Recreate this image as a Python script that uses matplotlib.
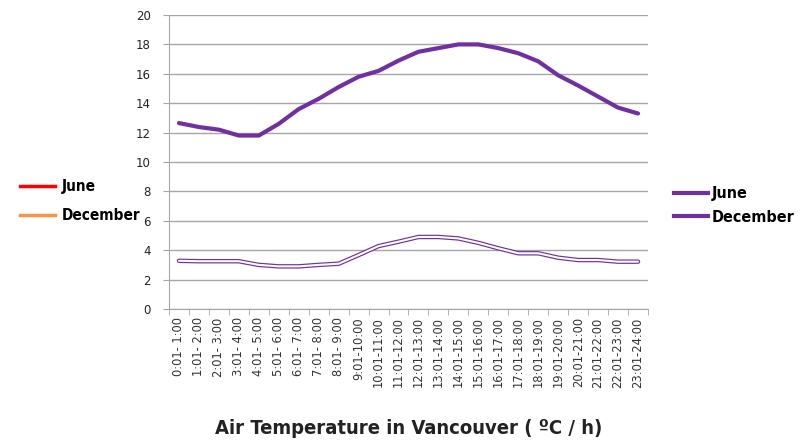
import matplotlib
matplotlib.use("Agg")
import matplotlib.pyplot as plt
from matplotlib.lines import Line2D
import numpy as np

hours = ["0:01- 1:00", "1:01- 2:00", "2:01- 3:00", "3:01- 4:00", "4:01- 5:00",
         "5:01- 6:00", "6:01- 7:00", "7:01- 8:00", "8:01- 9:00", "9:01-10:00",
         "10:01-11:00", "11:01-12:00", "12:01-13:00", "13:01-14:00", "14:01-15:00",
         "15:01-16:00", "16:01-17:00", "17:01-18:00", "18:01-19:00", "19:01-20:00",
         "20:01-21:00", "21:01-22:00", "22:01-23:00", "23:01-24:00"]

june = [12.65, 12.38, 12.2, 11.8, 11.8, 12.6, 13.6, 14.3, 15.1, 15.8, 16.2, 16.9,
        17.5, 17.75, 18.0, 18.0, 17.75, 17.4, 16.85, 15.9, 15.2, 14.45, 13.7, 13.3]
december = [3.28, 3.25, 3.25, 3.25, 3.0, 2.9, 2.9, 3.0, 3.08, 3.67, 4.28, 4.58,
            4.9, 4.9, 4.8, 4.5, 4.13, 3.79, 3.79, 3.49, 3.33, 3.33, 3.22, 3.22]

purple = "#7030A0"
grid_c = "#A6A6A6"
cond = {"family": "DejaVu Sans", "stretch": "condensed", "weight": "bold"}

fig = plt.figure(figsize=(8.02, 4.43), dpi=100)
ax = fig.add_axes([0.2107, 0.3025, 0.5973, 0.6636])

x = np.arange(len(hours))
ax.plot(x, june, color=purple, lw=3.0, solid_capstyle="round", solid_joinstyle="round", zorder=3)
# December drawn as a hollow double line
ax.plot(x, december, color=purple, lw=3.2, solid_capstyle="round", solid_joinstyle="round", zorder=3)
ax.plot(x, december, color="white", lw=1.5, solid_capstyle="round", solid_joinstyle="round", zorder=4)

ax.set_xlim(-0.5, len(hours) - 0.5)
ax.set_ylim(0, 20)
ax.set_yticks(np.arange(0, 21, 2))
ax.set_xticks(x)
ax.set_xticklabels(hours, rotation=90, fontsize=8.3, color="#333333")
ax.set_xticks(np.arange(-0.5, len(hours), 1), minor=True)
ax.tick_params(axis="x", which="major", length=0, pad=6)
ax.tick_params(axis="x", which="minor", length=4, color=grid_c, direction="out")
ax.tick_params(axis="y", length=4, color=grid_c, labelsize=8.5, labelcolor="#222222", pad=9)
ax.yaxis.grid(True, color=grid_c, lw=1.0)
ax.set_axisbelow(True)
for s in ["top", "right"]:
    ax.spines[s].set_visible(False)
ax.spines["left"].set_color(grid_c)
ax.spines["bottom"].set_color(grid_c)

# left legend
left_handles = [Line2D([], [], color="#FF0000", lw=2.5),
                Line2D([], [], color="#F79646", lw=2.5)]
fig.legend(left_handles, ["June", "December"], loc="upper left",
           bbox_to_anchor=(0.008, 0.626), frameon=False, handlelength=2.3,
           handletextpad=0.4, labelspacing=0.9,
           prop=dict(cond, size=11))
# right legend
right_handles = [Line2D([], [], color=purple, lw=3.0),
                 Line2D([], [], color=purple, lw=3.0)]
fig.legend(right_handles, ["June", "December"], loc="upper left",
           bbox_to_anchor=(0.823, 0.612), frameon=False, handlelength=2.1,
           handletextpad=0.25, labelspacing=0.55,
           prop=dict(cond, size=11.5))

fig.text(0.509, 0.02, "Air Temperature in Vancouver ( ºC / h)", ha="center",
         fontsize=14.5, color="#222222", **cond)

fig.savefig("out.png", dpi=100)
